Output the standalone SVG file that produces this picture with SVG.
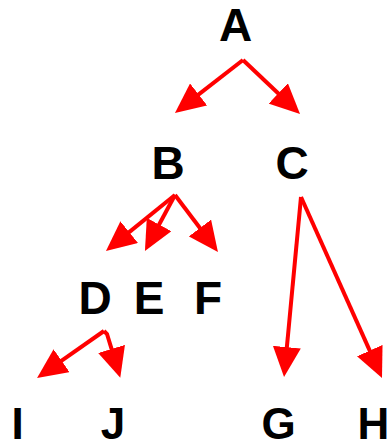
<svg xmlns="http://www.w3.org/2000/svg" width="390" height="448" viewBox="0 0 390 448">
<style>
.lbl{font-family:"Liberation Sans",Arial,sans-serif;font-weight:bold;font-size:46px;fill:#000;text-anchor:middle}
.low{font-size:44px}
.edge{stroke:#ff0000;stroke-width:4;fill:none;marker-end:url(#ah)}
</style>
<defs>
<marker id="ah" viewBox="0 0 30 28" refX="6" refY="14" markerWidth="30" markerHeight="28" markerUnits="userSpaceOnUse" orient="auto">
<path d="M0,0 L30,14 L0,28 z" fill="#ff0000"/>
</marker>
</defs>
<rect width="390" height="448" fill="#fff"/>
<g id="connectors">
<line class="edge" x1="243" y1="60" x2="193.9" y2="98.2"/>
<line class="edge" x1="243" y1="60" x2="282.6" y2="97.5"/>
<line class="edge" x1="175" y1="195" x2="124.6" y2="235.9"/>
<line class="edge" x1="175" y1="195" x2="156.3" y2="229.8"/>
<line class="edge" x1="175" y1="195" x2="203.5" y2="232.8"/>
<line class="edge" x1="104" y1="331" x2="56.7" y2="364.2"/>
<path class="edge" d="M104,331 L107,334 L113.3,354.7"/>
<line class="edge" x1="301" y1="197" x2="286.3" y2="353.1"/>
<line class="edge" x1="301" y1="197" x2="372.2" y2="356.1"/>
</g>
<g id="A"><text class="lbl" x="235.5" y="41">A</text></g>
<g id="B"><text class="lbl" x="168" y="179">B</text></g>
<g id="C"><text class="lbl" x="292" y="179">C</text></g>
<g id="D"><text class="lbl" x="95" y="314">D</text></g>
<g id="E"><text class="lbl" x="149" y="314">E</text></g>
<g id="F"><text class="lbl" x="208" y="314">F</text></g>
<g id="I"><text class="lbl low" x="17.5" y="438.5">I</text></g>
<g id="J"><text class="lbl low" x="113" y="438.5">J</text></g>
<g id="G"><text class="lbl low" x="278.5" y="438.5">G</text></g>
<g id="H"><text class="lbl low" x="373.5" y="438.5">H</text></g>
</svg>
